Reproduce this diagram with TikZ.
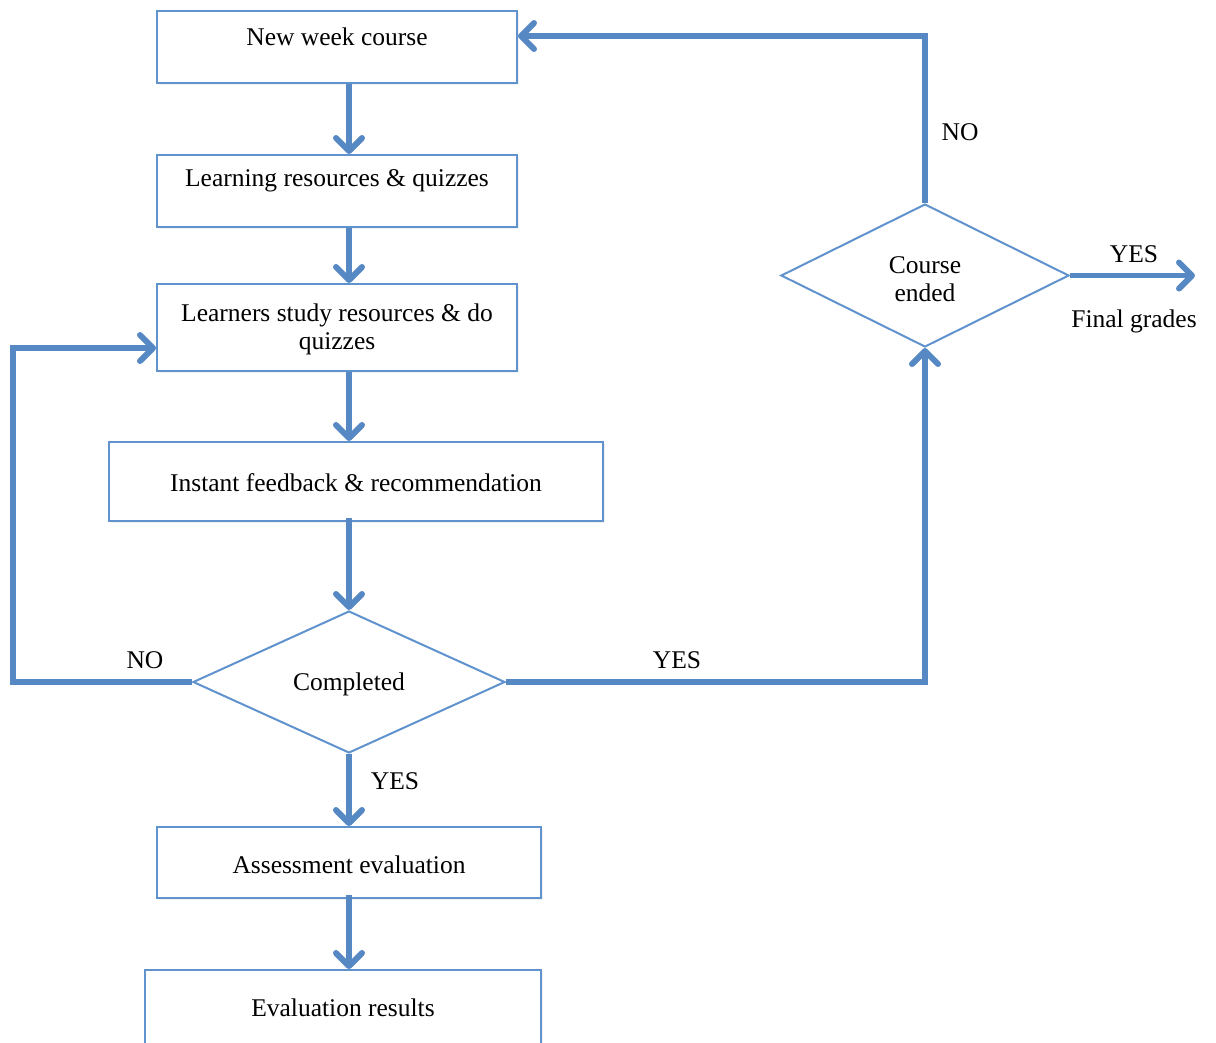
\documentclass[tikz,border=0pt]{standalone}
\usepackage{fontspec}
\setmainfont{Liberation Serif}
\usetikzlibrary{arrows.meta,shapes.geometric,shadows}
\definecolor{lineblue}{RGB}{86,136,196}
\definecolor{boxblue}{RGB}{96,146,206}
\begin{document}
\begin{tikzpicture}[x=1pt,y=-1pt,
  box/.style={draw=boxblue, line width=2pt, fill=white, inner sep=0pt,
    drop shadow={shadow xshift=2pt, shadow yshift=-2pt, opacity=0.12}},
  dia/.style={diamond, draw=boxblue, line width=2pt, fill=white, inner sep=0pt,
    font=\fontsize{25.5}{28}\selectfont, align=center},
  txt/.style={font=\fontsize{25.5}{28}\selectfont, align=center, inner sep=0pt},
  arr/.style={draw=lineblue, line width=5.5pt, line join=miter,
    -{Straight Barb[length=13pt,width=26pt,line width=6pt,round]}}]
\useasboundingbox (0,0) rectangle (1216,1042);

% boxes
\node[box, minimum width=360pt, minimum height=72pt] (b1) at (337,47) {};
\node[txt] (t1) at (337,37) {New week course};
\node[box, minimum width=360pt, minimum height=72pt] (b2) at (337,191) {};
\node[txt] (t2) at (337,181) {Learning resources \& quizzes};
\node[box, minimum width=360pt, minimum height=87pt] (b3) at (337,327.5) {};
\node[txt] (t3) at (337,329) {Learners study resources \& do\\quizzes};
\node[box, minimum width=494pt, minimum height=79pt] (b4) at (356,481.5) {};
\node[txt] (t4) at (356,483) {Instant feedback \& recommendation};
\node[dia, minimum width=312pt, minimum height=142pt] (d1) at (349,682) {};
\node[txt] (t5) at (349,684) {Completed};
\node[box, minimum width=384pt, minimum height=71pt] (b5) at (349,862.5) {};
\node[txt] (t6) at (349,865) {Assessment evaluation};
\node[box, minimum width=396pt, minimum height=80pt] (b6) at (343,1010) {};
\node[txt] (t7) at (343,1008) {Evaluation results};
\node[dia, minimum width=288pt, minimum height=143pt] (d2) at (925,275.5) {};
\node[txt] (t8) at (925,279) {Course\\ended};

% labels
\node[txt] (lno1) at (145,660) {NO};
\node[txt] (lyes1) at (677,660) {YES};
\node[txt] (lyes2) at (395,781) {YES};
\node[txt] (lno2) at (960,132) {NO};
\node[txt] (lyes3) at (1134,254) {YES};
\node[txt] (lfinal) at (1134,321) {Final grades};

% coordinates
\coordinate (loopL) at (13,682);
\coordinate (fin) at (1195,275.5);

% connectors
\draw[arr] (b1.south -| d1) -- (b2.north -| d1);
\draw[arr] (b2.south -| d1) -- (b3.north -| d1);
\draw[arr] (b3.south -| d1) -- (b4.north -| d1);
\draw[arr] ([yshift=4pt]b4.south -| d1) -- (d1.north);
\draw[arr] (d1.south) -- (b5.north -| d1);
\draw[arr] ([yshift=4pt]b5.south -| d1) -- (b6.north -| d1);
\draw[arr] (d1.west) -- (loopL) |- ([yshift=-20.5pt]b3.west);
\draw[arr] (d1.east) -| (d2.south);
\draw[arr] (d2.north) |- ([yshift=11pt]b1.east);
\draw[arr] (d2.east) -- (fin);
\end{tikzpicture}
\end{document}
